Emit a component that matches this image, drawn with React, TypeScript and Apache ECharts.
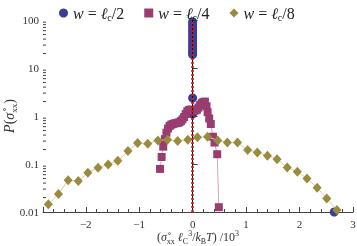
import React, { useEffect, useRef } from 'react';
import * as echarts from 'echarts';

// w = ℓc/2 (blue circles)
const halfX = [0, 0, 0, 0, 0, 0, 0, 0, 0, 0, 0, 0, 0, 0, 0, 0];
const halfY = [92, 82, 72, 63, 56, 49, 43, 38, 33, 29, 26, 23, 21, 19, 2.37, 1.1];
const halfTailX = [2.65];
const halfTailY = [0.01];

// w = ℓc/4 (magenta squares)
const quarterX = [-0.61, -0.58, -0.55, -0.52, -0.49, -0.46, -0.43, -0.4, -0.37, -0.34, -0.31, -0.28, -0.25, -0.22, -0.19, -0.16, -0.13, -0.1, -0.07, -0.04, -0.01, 0.02, 0.05, 0.08, 0.11, 0.14, 0.17, 0.2, 0.23, 0.26, 0.28, 0.31, 0.34, 0.38, 0.41, 0.46, 0.49];
const quarterY = [0.079, 0.14, 0.23, 0.33, 0.45, 0.55, 0.62, 0.66, 0.68, 0.7, 0.71, 0.72, 0.74, 0.78, 0.85, 0.95, 1.1, 1.25, 1.33, 1.36, 1.35, 1.3, 1.3, 1.35, 1.5, 1.7, 1.85, 1.95, 2.0, 1.6, 1.2, 0.89, 0.68, 0.37, 0.28, 0.16, 0.0126];

// w = ℓc/8 (olive diamonds)
const eighthX = [-2.7, -2.51, -2.33, -2.14, -1.96, -1.77, -1.58, -1.4, -1.21, -1.03, -0.84, -0.65, -0.47, -0.28, -0.09, 0.09, 0.28, 0.47, 0.65, 0.84, 1.03, 1.21, 1.4, 1.58, 1.77, 1.96, 2.14, 2.33, 2.51, 2.7];
const eighthY = [0.0145, 0.0237, 0.046, 0.044, 0.066, 0.084, 0.098, 0.117, 0.186, 0.274, 0.265, 0.31, 0.32, 0.3, 0.32, 0.36, 0.37, 0.31, 0.28, 0.28, 0.195, 0.174, 0.148, 0.126, 0.085, 0.069, 0.05, 0.032, 0.019, 0.011];

const xTicks = [-2, -1, 0, 1, 2, 3];
const yTicks = [0.01, 0.1, 1, 10, 100];
const seriesNames = ['w2', 'w4', 'w8'];
const legendDenoms: Record<string, string> = { w2: '2', w4: '4', w8: '8' };

const XMIN = -2.8;
const XMAX = 3.001;
const SERIF = 'Liberation Serif';
const AXIS = '#444';

const zip = (xs: number[], ys: number[]) => xs.map((x, i) => [x, ys[i]]);
const fmtX = (r: number) => (r < 0 ? '\u2212' + Math.abs(r) : String(r));

export default function App() {
  const ref = useRef<HTMLDivElement>(null);
  useEffect(() => {
    const chart = echarts.init(ref.current!, null, { renderer: 'svg' });
    const option: any = {
      animation: false,
      grid: { left: 43, right: 4, top: 20, bottom: 34, containLabel: false, outerBoundsMode: 'none' },
      legend: {
        top: 0,
        left: 54,
        itemWidth: 9,
        itemHeight: 9,
        itemGap: 20,
        data: [
          { name: 'w2', icon: 'circle' },
          { name: 'w4', icon: 'rect' },
          { name: 'w8', icon: 'diamond' },
        ],
        formatter: (n: string) => `{i|w} = {i|ℓ}{s|c}/${legendDenoms[n]}`,
        textStyle: {
          fontFamily: SERIF,
          fontSize: 16,
          color: '#222',
          rich: {
            i: { fontFamily: SERIF, fontStyle: 'italic', fontSize: 16, color: '#222' },
            s: { fontFamily: SERIF, fontSize: 10, color: '#222', verticalAlign: 'bottom', lineHeight: 18 },
          },
        },
      },
      xAxis: {
        type: 'value',
        min: XMIN,
        max: XMAX,
        name: '({i|σ̊}{s|xx} {i|ℓ}{s|C}{p|3}/{i|k}{s|B}{i|T}) /10{p|3}',
        nameLocation: 'middle',
        nameGap: 17,
        nameMoveOverlap: false,
        nameTextStyle: {
          fontFamily: SERIF,
          fontSize: 12,
          color: '#333',
          rich: {
            i: { fontFamily: SERIF, fontStyle: 'italic', fontSize: 12, color: '#333' },
            s: { fontFamily: SERIF, fontSize: 8, color: '#333', verticalAlign: 'bottom', lineHeight: 16 },
            p: { fontFamily: SERIF, fontSize: 8, color: '#333', verticalAlign: 'top', lineHeight: 16 },
          },
        },
        axisLine: { lineStyle: { color: AXIS, width: 1 } },
        axisTick: { inside: true, length: 5, lineStyle: { color: AXIS } },
        minorTick: { show: true, splitNumber: 5, length: 3, lineStyle: { color: AXIS } },
        splitLine: { show: false },
        axisLabel: {
          fontFamily: SERIF,
          fontSize: 11,
          color: '#333',
          margin: 6,
          showMaxLabel: true,
          hideOverlap: false,
          formatter: (v: number) => {
            const r = Math.round(v * 1000) / 1000;
            return xTicks.includes(r) && r !== 3 ? fmtX(r) : '';
          },
        },
      },
      yAxis: {
        type: 'log',
        logBase: 10,
        min: yTicks[0],
        max: yTicks[yTicks.length - 1],
        name: '{i|P}({i|σ̊}{s|xx})',
        nameLocation: 'middle',
        nameGap: 25,
        nameMoveOverlap: false,
        nameTextStyle: {
          fontFamily: SERIF,
          fontSize: 14,
          color: '#333',
          rich: {
            i: { fontFamily: SERIF, fontStyle: 'italic', fontSize: 14, color: '#333' },
            s: { fontFamily: SERIF, fontSize: 9, color: '#333', verticalAlign: 'bottom', lineHeight: 17 },
          },
        },
        axisLine: { show: true, lineStyle: { color: AXIS, width: 1 } },
        axisTick: { show: true, inside: true, length: 5, lineStyle: { color: AXIS } },
        splitLine: { show: false },
        axisLabel: {
          fontFamily: SERIF,
          fontSize: 11,
          color: '#333',
          margin: 4,
          formatter: (v: number) => {
            const t = yTicks.find((y) => Math.abs(Math.log10(y) - Math.log10(v)) < 1e-6);
            return t === undefined ? '' : String(t);
          },
        },
      },
      series: [
        {
          name: seriesNames[0],
          type: 'line',
          data: zip(halfX, halfY),
          symbol: 'circle',
          symbolSize: 9,
          itemStyle: { color: '#3d3d99' },
          lineStyle: { color: '#222244', width: 1 },
          z: 2,
          markLine: {
            silent: true,
            symbol: 'none',
            label: { show: false },
            data: [
              { xAxis: 0, lineStyle: { color: '#111', type: 'solid', width: 1 } },
              { xAxis: 0, lineStyle: { color: '#e01010', type: [2, 2], width: 2.5 } },
            ],
          },
        },
        {
          name: seriesNames[0],
          type: 'line',
          data: zip(halfTailX, halfTailY),
          symbol: 'circle',
          symbolSize: 9,
          itemStyle: { color: '#3d3d99' },
          lineStyle: { width: 0 },
          z: 2,
        },
        {
          name: seriesNames[1],
          type: 'line',
          data: zip(quarterX, quarterY),
          symbol: 'rect',
          symbolSize: 8,
          itemStyle: { color: '#993d71' },
          lineStyle: { color: '#d4a3c2', width: 1 },
          z: 3,
        },
        {
          name: seriesNames[2],
          type: 'line',
          data: zip(eighthX, eighthY),
          symbol: 'diamond',
          symbolSize: [9, 10],
          itemStyle: { color: '#998b3d' },
          lineStyle: { color: '#d8d0a4', width: 1 },
          z: 4,
        },
      ],
    };
    chart.setOption(option);

    const extra: any[] = [];
    for (let d = -2; d < 2; d++) {
      for (let m = 2; m <= 9; m++) {
        const v = m * Math.pow(10, d);
        const p = chart.convertToPixel({ gridIndex: 0 }, [XMIN, v]) as number[];
        extra.push({
          type: 'line',
          silent: true,
          shape: { x1: p[0], y1: p[1], x2: p[0] + 3, y2: p[1] },
          style: { stroke: AXIS, lineWidth: 1 },
        });
      }
    }
    // the last x tick label, which ECharts drops at the container edge
    const last = xTicks[xTicks.length - 1];
    const pl = chart.convertToPixel({ gridIndex: 0 }, [last, yTicks[0]]) as number[];
    extra.push({
      type: 'text',
      silent: true,
      x: pl[0],
      y: pl[1] + 6,
      style: {
        text: fmtX(last),
        fontFamily: SERIF,
        fontSize: 11,
        fill: '#333',
        align: 'center',
        verticalAlign: 'top',
      },
    });
    chart.setOption({ graphic: extra });
    return () => chart.dispose();
  }, []);
  return <div ref={ref} style={{ position: 'fixed', left: 0, top: 0, width: 357, height: 246 }} />;
}
